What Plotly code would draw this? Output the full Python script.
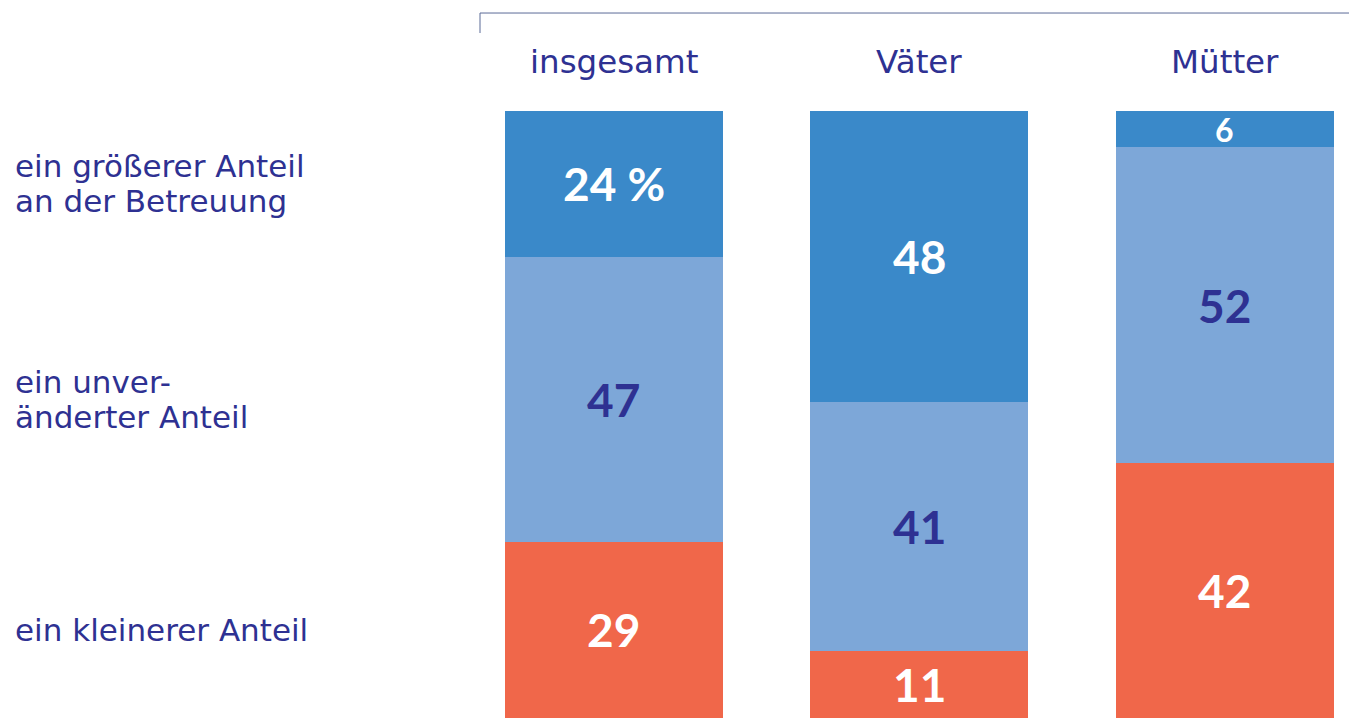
import plotly.graph_objects as go

categories = ["insgesamt", "Väter", "Mütter"]
series_names = ["ein kleinerer Anteil", "ein unveränderter Anteil", "ein größerer Anteil an der Betreuung"]
row_labels = [["ein kleinerer Anteil"], ["ein unver-", "änderter Anteil"], ["ein größerer Anteil", "an der Betreuung"]]
kleiner = [29, 11, 42]
unveraendert = [47, 41, 52]
groesser = [24, 48, 6]

series = [kleiner, unveraendert, groesser]
colors = ["#F0674A", "#7DA7D8", "#3A89C9"]
text_colors = ["#FFFFFF", "#2E3192", "#FFFFFF"]
NAVY = "#2E3192"
NUM_FONT = "Lato, 'Noto Sans', sans-serif"
TXT_FONT = "'DejaVu Sans', sans-serif"

fig = go.Figure()
for name, vals, col in zip(series_names, series, colors):
    fig.add_trace(go.Bar(
        x=list(range(len(categories))), y=vals, name=name,
        marker=dict(color=col, line=dict(width=0)),
        width=0.7136, showlegend=False, hoverinfo="skip",
    ))

annotations = []
# value labels at segment centers
for ci in range(len(categories)):
    base = 0
    for si, vals in enumerate(series):
        v = vals[ci]
        mid = base + v / 2
        txt = f"{v} %" if (ci == 0 and si == 2) else str(v)
        size = 46 if v >= 10 else 32
        annotations.append(dict(
            x=ci, y=mid, xref="x", yref="y", text=f"<b>{txt}</b>",
            showarrow=False, font=dict(family=NUM_FONT, size=size, color=text_colors[si]),
            xanchor="center", yanchor="middle",
        ))
        base += v

# row labels aligned with insgesamt segments
LINE_H = 35
base = 0
for si, vals in enumerate(series):
    v = vals[0]
    lines = row_labels[si]
    n = len(lines)
    for li, line in enumerate(lines):
        shift = ((n - 1) / 2 - li) * LINE_H
        annotations.append(dict(
            x=-0.5362, y=base + v / 2, xref="paper", yref="y", text=line,
            showarrow=False, font=dict(family=TXT_FONT, size=31, color=NAVY),
            xanchor="left", yanchor="middle", align="left", yshift=shift,
            borderpad=0,
        ))
    base += v

# category headers
for ci, c in enumerate(categories):
    annotations.append(dict(
        x=ci, y=1.0807, xref="x", yref="paper", text=c, showarrow=False,
        font=dict(family=TXT_FONT, size=32.5, color=NAVY), xanchor="center", yanchor="middle",
    ))

shapes = [
    dict(type="line", xref="paper", yref="paper", x0=0, x1=1, y0=1.1614, y1=1.1614,
         line=dict(color="#5B6B97", width=1)),
    dict(type="line", xref="paper", yref="paper", x0=0, x1=0, y0=1.1614, y1=1.1285,
         line=dict(color="#5B6B97", width=1)),
]

fig.update_layout(
    barmode="stack",
    width=1349, height=718,
    margin=dict(l=480, r=0, t=111, b=0),
    paper_bgcolor="white", plot_bgcolor="white",
    xaxis=dict(range=[-0.4386, 2.406], visible=False, fixedrange=True),
    yaxis=dict(range=[0, 100], visible=False, fixedrange=True),
    annotations=annotations, shapes=shapes,
    bargap=0,
)

fig.write_html(
    "out.html",
    config={"displayModeBar": False},
    post_script="document.body.style.margin='0';document.body.style.overflow='hidden';",
)
